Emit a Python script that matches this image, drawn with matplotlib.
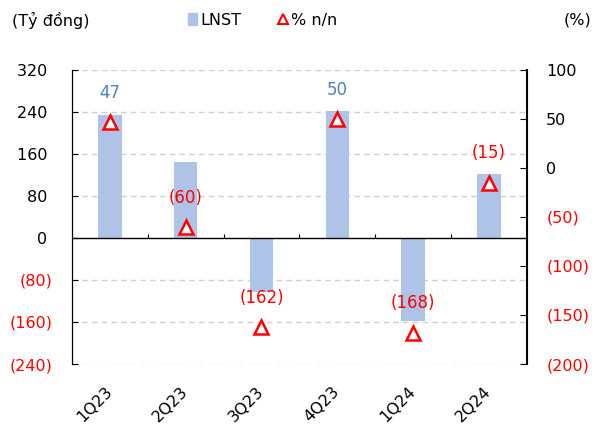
import numpy as np
import matplotlib.pyplot as plt
import matplotlib.transforms as mtransforms
from matplotlib.lines import Line2D
from matplotlib.patches import Patch

# Quarterly net profit (bn VND) and y/y growth (%)
quarters = ['1Q23', '2Q23', '3Q23', '4Q23', '1Q24', '2Q24']
lnst = [234, 144, -102, 241, -159, 122]
yoy = [47, -60, -162, 50, -168, -15]

left_ticks = [320, 240, 160, 80, 0, -80, -160, -240]
right_ticks = [100, 50, 0, -50, -100, -150, -200]

BAR_COLOR = '#AEC3E5'
RED = '#FF0000'
BLUE_TXT = '#4F81BD'
FS = 11.5

plt.rcParams['font.family'] = ['DejaVu Sans']

def fmt(v, pad=False):
    if v < 0:
        return f'({abs(v)})'
    # excel-style accounting format keeps a trailing space for positives
    return f'{v} ' if pad else f'{v}'

fig = plt.figure(figsize=(6, 4.26), dpi=100)
ax = fig.add_axes([0.12, 0.1455, 0.758, 0.6905])
ax2 = ax.twinx()

x = np.arange(len(quarters))
ax.bar(x, lnst, width=0.31, color=BAR_COLOR, zorder=2)
ax.set_xlim(-0.5, len(quarters) - 0.5)
ax.set_ylim(-240, 320)
ax.set_yticks(left_ticks)
ax.set_yticklabels([fmt(v, pad=True) for v in left_ticks], fontsize=FS)
for lab, v in zip(ax.get_yticklabels(), left_ticks):
    lab.set_color(RED if v < 0 else 'black')
ax.tick_params(axis='y', direction='in', length=4, pad=14)

# dashed grid, zero line as the category axis
for v in left_ticks:
    if v != 0:
        ax.axhline(v, color='#D0D0D0', lw=1, ls=(0, (4, 3)), zorder=1)
ax.axhline(0, color='black', lw=1, zorder=3)
ax.vlines(x[:-1] + 0.5, 0, 8, color='black', lw=0.8, zorder=3)

ax.set_xticks(x)
ax.set_xticklabels(quarters, rotation=45, ha='right', va='top', fontsize=FS)
ax.tick_params(axis='x', length=0, pad=14)
shift = mtransforms.ScaledTranslation(5 / 100, 0, fig.dpi_scale_trans)
for lab in ax.get_xticklabels():
    lab.set_transform(lab.get_transform() + shift)

for s in ['top', 'bottom']:
    ax.spines[s].set_visible(False)
    ax2.spines[s].set_visible(False)
ax2.spines['right'].set_linewidth(1.4)

ax2.plot(x, yoy, ls='none', marker='^', markersize=10, markerfacecolor='white',
         markeredgecolor=RED, markeredgewidth=1.8, zorder=4)
ax2.set_ylim(-200, 100)
ax2.set_yticks(right_ticks)
ax2.set_yticklabels([fmt(v) for v in right_ticks], fontsize=FS)
for lab, v in zip(ax2.get_yticklabels(), right_ticks):
    lab.set_color(RED if v < 0 else 'black')
ax2.tick_params(axis='y', direction='in', length=5, pad=14)

for xi, v in zip(x, yoy):
    ax2.annotate(fmt(v), (xi, v), xytext=(0, 21), textcoords='offset points',
                 ha='center', va='center', fontsize=12,
                 color=RED if v < 0 else BLUE_TXT)

fig.text(0.02, 0.953, '(Tỷ đồng)', fontsize=FS, va='center')
fig.text(0.94, 0.953, '(%)', fontsize=FS, va='center')
handles = [Patch(color=BAR_COLOR),
           Line2D([], [], ls='none', marker='^', markersize=7, markerfacecolor='white',
                  markeredgecolor=RED, markeredgewidth=1.5)]
fig.legend(handles, ['LNST', '% n/n'], loc='center', bbox_to_anchor=(0.438, 0.953),
           ncol=2, frameon=False, fontsize=FS, handlelength=0.55, handletextpad=0.25,
           columnspacing=2.3)

fig.savefig('out.png', dpi=100)
